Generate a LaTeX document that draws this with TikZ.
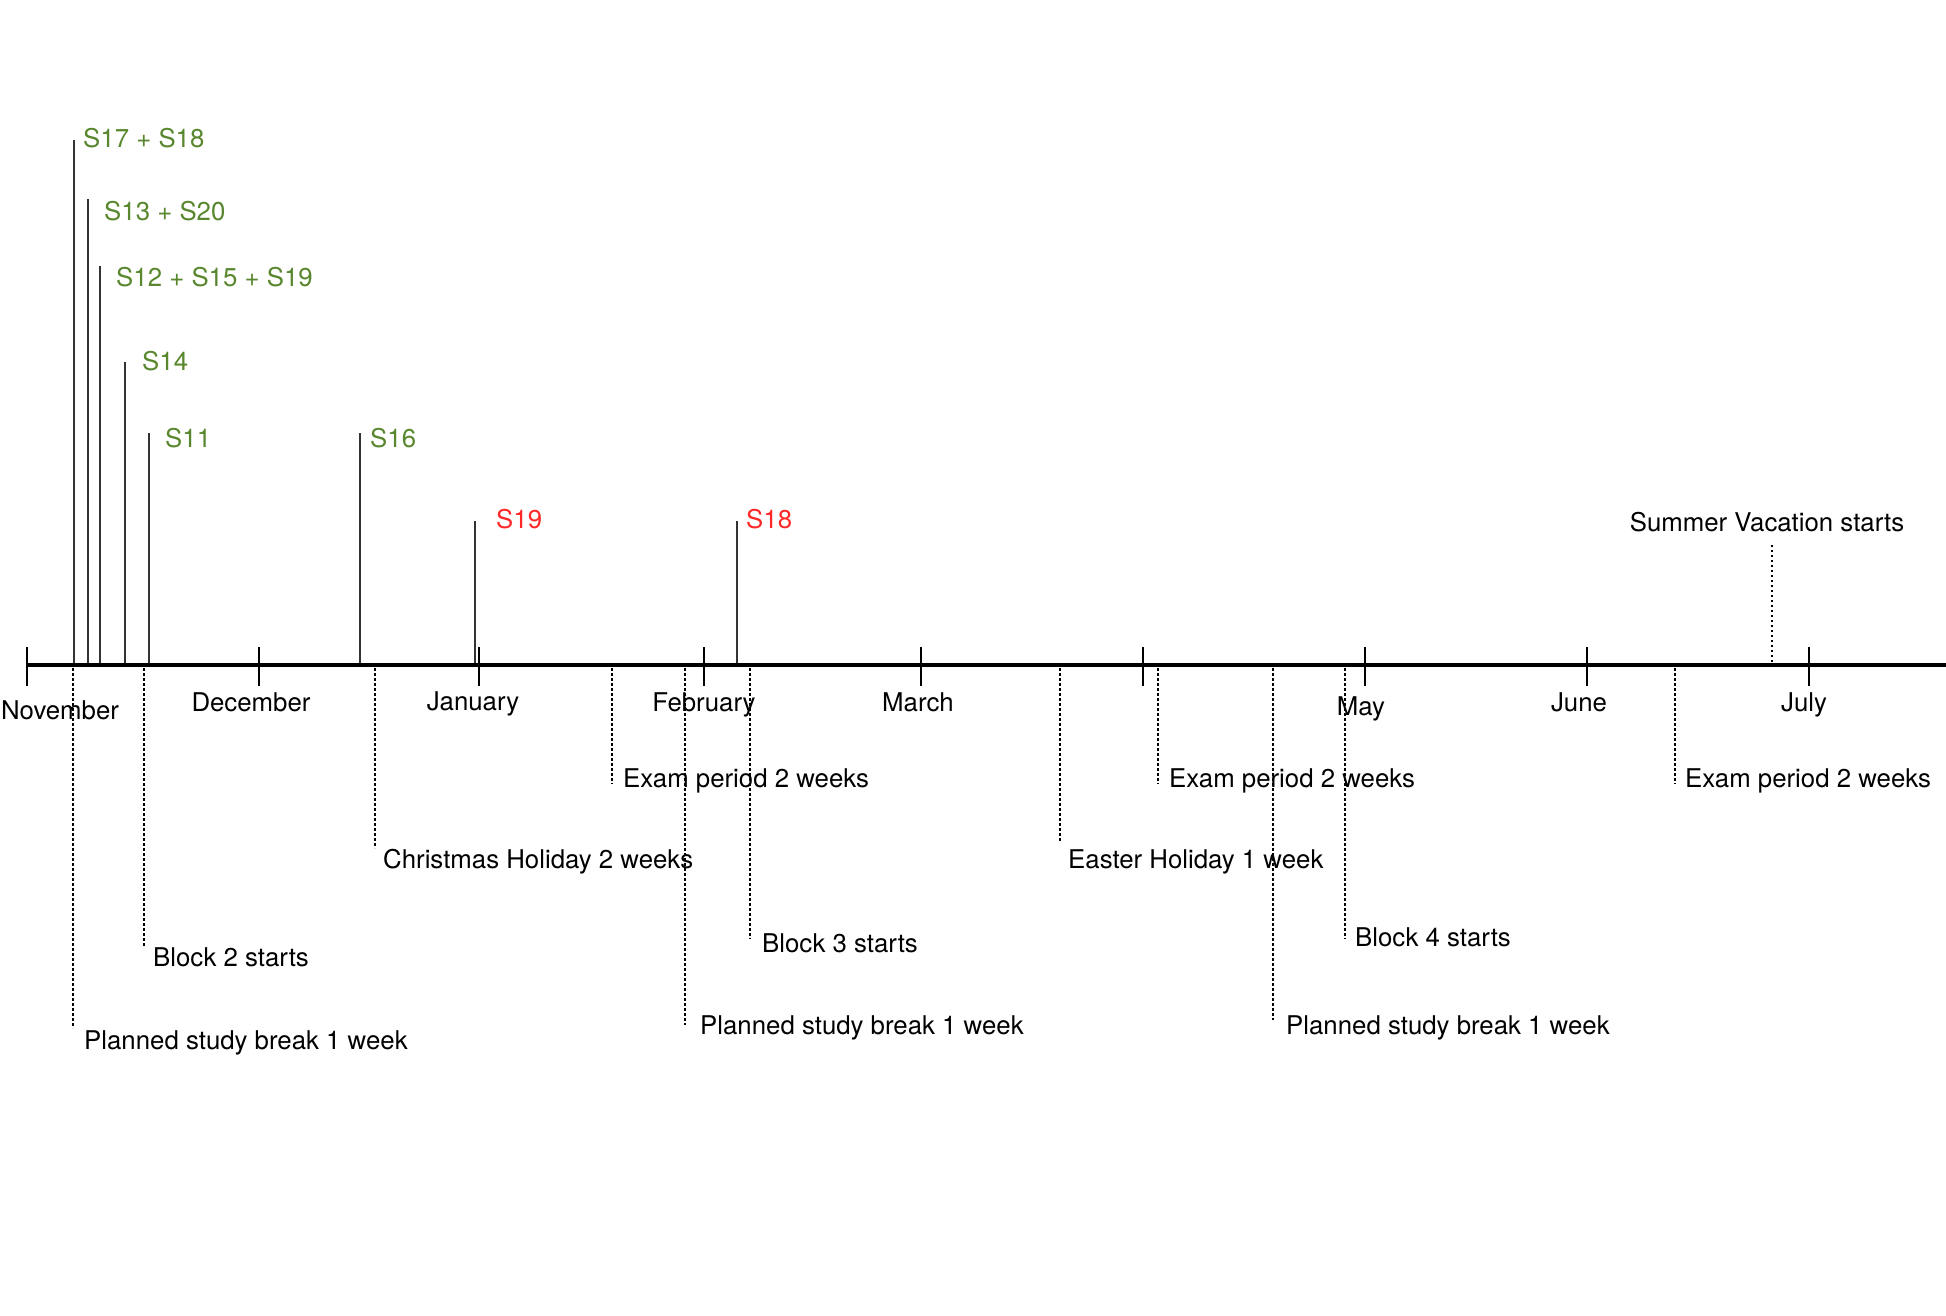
\documentclass[tikz,border=0pt]{standalone}
\usepackage{fontspec}
\setmainfont{TeX Gyre Heros}
\definecolor{evgreen}{RGB}{88,135,45}
\definecolor{evred}{RGB}{255,40,40}
\begin{document}
\begin{tikzpicture}[x=1pt,y=-1pt,
 lbl/.style={inner sep=0pt, font=\fontsize{25.8}{30}\selectfont},
 month/.style={lbl, anchor=base},
 evlbl/.style={lbl, anchor=base west},
 greenlbl/.style={evlbl, text=evgreen},
 redlbl/.style={evlbl, text=evred},
 axisline/.style={line width=4.5pt},
 tickline/.style={line width=2.5pt},
 eventline/.style={line width=1.2pt, draw=black!80},
 markline/.style={line width=1.5pt, dash pattern=on 2.5pt off 2.5pt}]
\useasboundingbox (0,0) rectangle (1946,1316);
\fill[white] (0,0) rectangle (1946,1316);

% axis
\coordinate (axL) at (27,665);
\coordinate (axR) at (1946,665);
\draw[axisline] (axL) -- (axR);

% month ticks
\foreach \x/\n in {27/nov,259/dec,479/jan,704/feb,921/mar,1143/apr,1365/may,1587/jun,1809/jul}{
  \coordinate (t\n a) at (\x,647);
  \coordinate (t\n b) at (\x,686);
  \draw[tickline] (t\n a) -- (t\n b);
}
\node[month] (mnov) at (60,719) {November};
\node[month] (mdec) at (251,711) {December};
\node[month] (mjan) at (473,710) {January};
\node[month] (mfeb) at (704,711) {February};
\node[month] (mmar) at (918,711) {March};
\node[month] (mmay) at (1361,715) {May};
\node[month] (mjun) at (1579,711) {June};
\node[month] (mjul) at (1804,711) {July};

% events above the axis
\foreach \n/\x/\top in {s17/74/140,s13/88/199,s12/100/266,s14/125/362,s11/149/433,s16/360/433,s19/475/521,s18/737/521}{
  \coordinate (\n top) at (\x,\top);
  \coordinate (\n bot) at (\x,663);
  \draw[eventline] (\n bot) -- (\n top);
}
\node[greenlbl] (ls17) at (83,148) {S17 + S18};
\node[greenlbl] (ls13) at (104,221) {S13 + S20};
\node[greenlbl] (ls12) at (116,286) {S12 + S15 + S19};
\node[greenlbl] (ls14) at (142,370) {S14};
\node[greenlbl] (ls11) at (165,447) {S11};
\node[greenlbl] (ls16) at (370,447) {S16};
\node[redlbl] (ls19) at (496,528) {S19};
\node[redlbl] (ls18) at (746,528) {S18};

% dotted markers below the axis
\foreach \n/\x/\bot in {m1/73/1028,m2/144/947,m3/375/848,m4/612/784,m5/685/1025,m6/750/939,m7/1060/841,m8/1158/784,m9/1273/1020,m10/1345/939,m11/1675/784}{
  \coordinate (\n a) at (\x,668);
  \coordinate (\n b) at (\x,\bot);
  \draw[markline] (\n a) -- (\n b);
}
\node[evlbl] (lm1) at (84,1049) {Planned study break 1 week};
\node[evlbl] (lm2) at (153,966) {Block 2 starts};
\node[evlbl] (lm3) at (383,868) {Christmas Holiday 2 weeks};
\node[evlbl] (lm4) at (623,787) {Exam period 2 weeks};
\node[evlbl] (lm5) at (700,1034) {Planned study break 1 week};
\node[evlbl] (lm6) at (762,952) {Block 3 starts};
\node[evlbl] (lm7) at (1068,868) {Easter Holiday 1 week};
\node[evlbl] (lm8) at (1169,787) {Exam period 2 weeks};
\node[evlbl] (lm9) at (1286,1034) {Planned study break 1 week};
\node[evlbl] (lm10) at (1355,946) {Block 4 starts};
\node[evlbl] (lm11) at (1685,787) {Exam period 2 weeks};

% summer vacation
\coordinate (sva) at (1772,662);
\coordinate (svb) at (1772,544);
\draw[markline] (sva) -- (svb);
\node[lbl, anchor=base] (lsv) at (1767,531) {Summer Vacation starts};
\end{tikzpicture}
\end{document}
